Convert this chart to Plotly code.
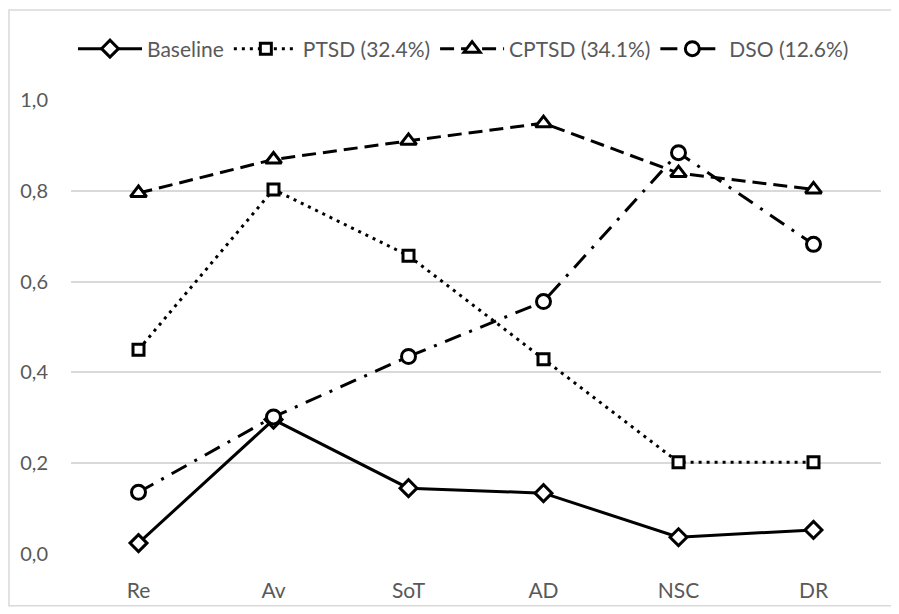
import plotly.graph_objects as go

categories = ["Re", "Av", "SoT", "AD", "NSC", "DR"]
baseline = [0.024, 0.296, 0.145, 0.134, 0.037, 0.053]
ptsd = [0.450, 0.803, 0.657, 0.429, 0.202, 0.202]
cptsd = [0.795, 0.869, 0.910, 0.949, 0.839, 0.803]
dso = [0.136, 0.302, 0.435, 0.556, 0.884, 0.682]
series_names = ["Baseline", "PTSD (32.4%)", "CPTSD (34.1%)", "DSO (12.6%)"]
y_ticks = [0.0, 0.2, 0.4, 0.6, 0.8, 1.0]

FONT = "Lato"
GREY = "#595959"

# page has an 8px body margin; figure sized to fit the window
W, H = 891, 606
OFF = 8
L, R, T, B = 71 - OFF, 899 - 881, 100 - OFF, 614 - 554.3
PW, PH = W - L - R, H - T - B

styles = [
    dict(dash="solid", symbol="diamond", size=13),
    dict(dash="3px,5px", symbol="square", size=11),
    dict(dash="14px,7px", symbol="triangle-up", size=14),
    dict(dash="17px,9px,3px,9px", symbol="circle", size=14),
]

fig = go.Figure()
for name, vals, st in zip(series_names, [baseline, ptsd, cptsd, dso], styles):
    fig.add_trace(go.Scatter(
        x=categories, y=vals, name=name, mode="lines+markers",
        line=dict(color="black", width=3, dash=st["dash"]),
        marker=dict(symbol=st["symbol"], size=st["size"], color="white",
                    line=dict(color="black", width=3)),
    ))

fig.update_layout(
    width=W, height=H,
    margin=dict(l=L, r=R, t=T, b=B, autoexpand=False),
    plot_bgcolor="white", paper_bgcolor="white",
    separators=", ",
    font=dict(family=FONT, color=GREY, size=21),
    legend=dict(orientation="h", xref="container", x=(463.5 - OFF) / W, xanchor="center",
                yref="container", y=1 - (49 - OFF) / H, yanchor="middle",
                font=dict(size=21, color=GREY, family=FONT),
                itemwidth=64, tracegroupgap=0),
    xaxis=dict(showgrid=False, zeroline=False, showline=False,
               ticks="outside", ticklen=18, tickcolor="rgba(0,0,0,0)",
               tickfont=dict(size=21, color=GREY, family=FONT),
               range=[-0.5, 5.5]),
    yaxis=dict(range=[0, 1], tickvals=y_ticks, tickformat=".1f",
               showgrid=True, gridcolor="#d9d9d9", gridwidth=1.5,
               zeroline=False, showline=False,
               ticks="outside", ticklen=18, tickcolor="rgba(0,0,0,0)",
               tickfont=dict(size=20, color=GREY, family=FONT)),
)

fig.add_shape(type="rect", xref="paper", yref="paper",
              x0=(1 - L) / PW, x1=(892 - OFF - L) / PW,
              y0=(H - B - (606 - OFF)) / PH, y1=(H - B - (10 - OFF)) / PH,
              line=dict(color="#d9d9d9", width=1.5), fillcolor="rgba(0,0,0,0)",
              layer="below")

fig.write_html("out.html")
